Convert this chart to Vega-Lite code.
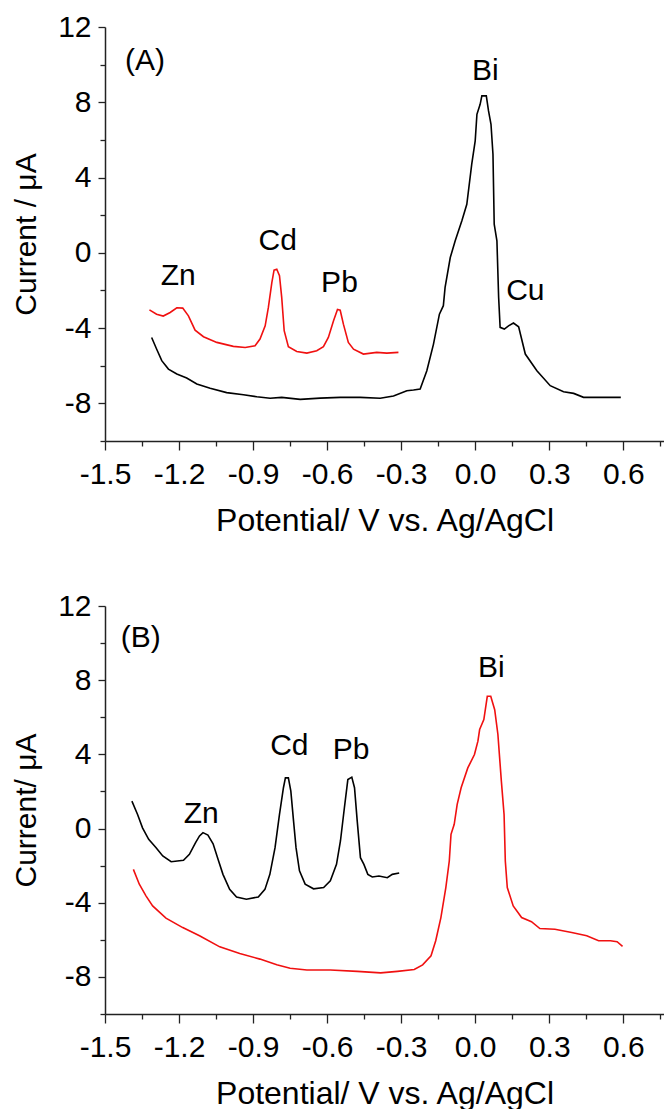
{
  "$schema": "https://vega.github.io/schema/vega-lite/v6.json",
  "background": "white",
  "padding": {"left": 11, "top": 12, "right": 0, "bottom": 0},
  "bounds": "flush",
  "spacing": 165,
  "config": {
    "font": "Liberation Sans",
    "view": {"stroke": null},
    "axis": {
      "grid": false,
      "domainColor": "#222222",
      "domainWidth": 1.5,
      "tickColor": "#222222",
      "tickWidth": 1.3,
      "labelFont": "Liberation Sans",
      "labelFontSize": 30,
      "labelColor": "#000000",
      "titleFont": "Liberation Sans",
      "titleFontWeight": "normal",
      "titleColor": "#000000"
    },
    "text": {"font": "Liberation Sans", "fontSize": 30, "color": "#000000"}
  },
  "datasets": {
    "A_BiCu": [
      {"potential": -1.311, "current": -4.5}, {"potential": -1.291, "current": -5.11}, {"potential": -1.27, "current": -5.73},
      {"potential": -1.243, "current": -6.18}, {"potential": -1.209, "current": -6.44}, {"potential": -1.169, "current": -6.65},
      {"potential": -1.128, "current": -6.97}, {"potential": -1.074, "current": -7.2}, {"potential": -1.007, "current": -7.43},
      {"potential": -0.939, "current": -7.54}, {"potential": -0.885, "current": -7.65}, {"potential": -0.831, "current": -7.73},
      {"potential": -0.784, "current": -7.68}, {"potential": -0.709, "current": -7.79}, {"potential": -0.628, "current": -7.72},
      {"potential": -0.547, "current": -7.68}, {"potential": -0.466, "current": -7.68}, {"potential": -0.385, "current": -7.73},
      {"potential": -0.331, "current": -7.61}, {"potential": -0.277, "current": -7.33}, {"potential": -0.25, "current": -7.29},
      {"potential": -0.223, "current": -7.24}, {"potential": -0.196, "current": -6.27}, {"potential": -0.169, "current": -4.85},
      {"potential": -0.145, "current": -3.26}, {"potential": -0.129, "current": -2.81}, {"potential": -0.122, "current": -1.84},
      {"potential": -0.101, "current": -0.25}, {"potential": -0.081, "current": 0.64}, {"potential": -0.054, "current": 1.7},
      {"potential": -0.034, "current": 2.58}, {"potential": -0.014, "current": 4.71}, {"potential": 0.0, "current": 5.95},
      {"potential": 0.007, "current": 7.36}, {"potential": 0.02, "current": 7.89}, {"potential": 0.027, "current": 8.34},
      {"potential": 0.045, "current": 8.34}, {"potential": 0.054, "current": 7.54}, {"potential": 0.064, "current": 6.83},
      {"potential": 0.072, "current": 5.24}, {"potential": 0.077, "current": 1.52}, {"potential": 0.088, "current": 0.64},
      {"potential": 0.095, "current": -2.37}, {"potential": 0.101, "current": -3.96}, {"potential": 0.118, "current": -4.05},
      {"potential": 0.135, "current": -3.88}, {"potential": 0.155, "current": -3.73}, {"potential": 0.176, "current": -3.93},
      {"potential": 0.203, "current": -5.38}, {"potential": 0.25, "current": -6.27}, {"potential": 0.304, "current": -7.06},
      {"potential": 0.358, "current": -7.38}, {"potential": 0.399, "current": -7.47}, {"potential": 0.439, "current": -7.68},
      {"potential": 0.507, "current": -7.68}, {"potential": 0.59, "current": -7.68}
    ],
    "A_ZnCdPb": [
      {"potential": -1.32, "current": -3.03}, {"potential": -1.291, "current": -3.26}, {"potential": -1.264, "current": -3.36},
      {"potential": -1.236, "current": -3.17}, {"potential": -1.209, "current": -2.92}, {"potential": -1.185, "current": -2.94},
      {"potential": -1.162, "current": -3.35}, {"potential": -1.135, "current": -4.11}, {"potential": -1.101, "current": -4.46},
      {"potential": -1.047, "current": -4.76}, {"potential": -0.98, "current": -4.97}, {"potential": -0.932, "current": -5.03},
      {"potential": -0.892, "current": -4.94}, {"potential": -0.872, "current": -4.58}, {"potential": -0.851, "current": -3.88},
      {"potential": -0.838, "current": -2.9}, {"potential": -0.824, "current": -1.58}, {"potential": -0.815, "current": -0.92},
      {"potential": -0.804, "current": -0.87}, {"potential": -0.793, "current": -1.22}, {"potential": -0.784, "current": -2.37},
      {"potential": -0.774, "current": -4.14}, {"potential": -0.757, "current": -4.99}, {"potential": -0.723, "current": -5.24},
      {"potential": -0.682, "current": -5.33}, {"potential": -0.642, "current": -5.2}, {"potential": -0.615, "current": -4.99},
      {"potential": -0.595, "current": -4.5}, {"potential": -0.574, "current": -3.61}, {"potential": -0.558, "current": -3.01},
      {"potential": -0.547, "current": -3.05}, {"potential": -0.534, "current": -3.79}, {"potential": -0.514, "current": -4.76},
      {"potential": -0.493, "current": -5.12}, {"potential": -0.453, "current": -5.38}, {"potential": -0.399, "current": -5.29},
      {"potential": -0.358, "current": -5.33}, {"potential": -0.311, "current": -5.29}
    ],
    "A_labels": [
      {"label": "(A)", "potential": -1.338, "current": 10.2},
      {"label": "Zn", "potential": -1.203, "current": -1.22},
      {"label": "Cd", "potential": -0.8, "current": 0.64},
      {"label": "Pb", "potential": -0.55, "current": -1.58},
      {"label": "Bi", "potential": 0.041, "current": 9.66},
      {"label": "Cu", "potential": 0.203, "current": -2.02}
    ],
    "B_ZnCdPb": [
      {"potential": -1.391, "current": 1.48}, {"potential": -1.368, "current": 0.76}, {"potential": -1.348, "current": 0.04},
      {"potential": -1.323, "current": -0.58}, {"potential": -1.293, "current": -1.03}, {"potential": -1.266, "current": -1.48},
      {"potential": -1.232, "current": -1.79}, {"potential": -1.182, "current": -1.71}, {"potential": -1.158, "current": -1.39},
      {"potential": -1.133, "current": -0.76}, {"potential": -1.117, "current": -0.4}, {"potential": -1.103, "current": -0.22},
      {"potential": -1.083, "current": -0.35}, {"potential": -1.062, "current": -0.82}, {"potential": -1.042, "current": -1.66},
      {"potential": -1.022, "current": -2.47}, {"potential": -0.995, "current": -3.28}, {"potential": -0.967, "current": -3.69},
      {"potential": -0.927, "current": -3.81}, {"potential": -0.879, "current": -3.69}, {"potential": -0.852, "current": -3.28},
      {"potential": -0.832, "current": -2.47}, {"potential": -0.811, "current": -1.03}, {"potential": -0.793, "current": 0.76},
      {"potential": -0.777, "current": 2.2}, {"potential": -0.769, "current": 2.73}, {"potential": -0.757, "current": 2.73},
      {"potential": -0.747, "current": 2.02}, {"potential": -0.736, "current": 0.4}, {"potential": -0.726, "current": -1.03},
      {"potential": -0.712, "current": -2.28}, {"potential": -0.689, "current": -3.0}, {"potential": -0.655, "current": -3.25},
      {"potential": -0.614, "current": -3.18}, {"potential": -0.587, "current": -2.82}, {"potential": -0.562, "current": -1.93},
      {"potential": -0.546, "current": -0.67}, {"potential": -0.53, "current": 1.12}, {"potential": -0.516, "current": 2.64},
      {"potential": -0.5, "current": 2.77}, {"potential": -0.489, "current": 2.2}, {"potential": -0.478, "current": 0.4},
      {"potential": -0.465, "current": -1.57}, {"potential": -0.451, "current": -1.93}, {"potential": -0.435, "current": -2.47},
      {"potential": -0.417, "current": -2.61}, {"potential": -0.39, "current": -2.56}, {"potential": -0.356, "current": -2.65},
      {"potential": -0.336, "current": -2.47}, {"potential": -0.308, "current": -2.4}
    ],
    "B_Bi": [
      {"potential": -1.385, "current": -2.2}, {"potential": -1.361, "current": -3.0}, {"potential": -1.334, "current": -3.63},
      {"potential": -1.307, "current": -4.17}, {"potential": -1.253, "current": -4.83}, {"potential": -1.185, "current": -5.34},
      {"potential": -1.117, "current": -5.78}, {"potential": -1.035, "current": -6.38}, {"potential": -0.954, "current": -6.74},
      {"potential": -0.872, "current": -7.04}, {"potential": -0.804, "current": -7.35}, {"potential": -0.75, "current": -7.53},
      {"potential": -0.682, "current": -7.63}, {"potential": -0.587, "current": -7.63}, {"potential": -0.478, "current": -7.7},
      {"potential": -0.383, "current": -7.78}, {"potential": -0.315, "current": -7.7}, {"potential": -0.247, "current": -7.6},
      {"potential": -0.213, "current": -7.35}, {"potential": -0.179, "current": -6.86}, {"potential": -0.16, "current": -6.05},
      {"potential": -0.139, "current": -4.8}, {"potential": -0.119, "current": -3.18}, {"potential": -0.105, "current": -1.75},
      {"potential": -0.098, "current": -0.31}, {"potential": -0.085, "current": 0.23}, {"potential": -0.073, "current": 1.3},
      {"potential": -0.057, "current": 2.2}, {"potential": -0.03, "current": 3.27}, {"potential": -0.003, "current": 3.99},
      {"potential": 0.011, "current": 4.71}, {"potential": 0.018, "current": 5.34}, {"potential": 0.035, "current": 5.88},
      {"potential": 0.049, "current": 7.13}, {"potential": 0.063, "current": 7.13}, {"potential": 0.079, "current": 6.41},
      {"potential": 0.092, "current": 5.07}, {"potential": 0.106, "current": 2.56}, {"potential": 0.117, "current": 0.76},
      {"potential": 0.122, "current": -1.75}, {"potential": 0.13, "current": -3.18}, {"potential": 0.154, "current": -4.17},
      {"potential": 0.188, "current": -4.8}, {"potential": 0.228, "current": -5.02}, {"potential": 0.262, "current": -5.39},
      {"potential": 0.323, "current": -5.43}, {"potential": 0.391, "current": -5.61}, {"potential": 0.452, "current": -5.78},
      {"potential": 0.5, "current": -6.05}, {"potential": 0.548, "current": -6.05}, {"potential": 0.575, "current": -6.1},
      {"potential": 0.597, "current": -6.35}
    ],
    "B_labels": [
      {"label": "(B)", "potential": -1.355, "current": 10.27},
      {"label": "Zn", "potential": -1.11, "current": 0.76},
      {"label": "Cd", "potential": -0.753, "current": 4.44},
      {"label": "Pb", "potential": -0.503, "current": 4.26},
      {"label": "Bi", "potential": 0.065, "current": 8.65}
    ]
  },
  "vconcat": [
    {
      "width": 559,
      "height": 414,
      "encoding": {
        "x": {
          "field": "potential", "type": "quantitative",
          "scale": {"domain": [-1.5, 0.765], "nice": false, "zero": false},
          "axis": {
            "values": [-1.5, -1.35, -1.2, -1.05, -0.9, -0.75, -0.6, -0.45, -0.3, -0.15, 0, 0.15, 0.3, 0.45, 0.6, 0.75],
            "format": ".1f",
            "labelExpr": "abs(datum.value*10/3 - round(datum.value*10/3)) < 0.01 ? replace(datum.label, '\u2212', '-') : ''",
            "tickSize": {"condition": {"test": "abs(datum.value*10/3 - round(datum.value*10/3)) < 0.01", "value": 9}, "value": 5},
            "labelPadding": 9,
            "labelFlush": false,
            "labelOverlap": false,
            "title": "Potential/ V vs. Ag/AgCl",
            "titleFontSize": 32,
            "titlePadding": 16
          }
        },
        "y": {
          "field": "current", "type": "quantitative",
          "scale": {"domain": [-10, 12], "nice": false, "zero": false},
          "axis": {
            "values": [-10, -8, -6, -4, -2, 0, 2, 4, 6, 8, 10, 12],
            "labelExpr": "datum.value % 4 == 0 ? replace(datum.label, '\u2212', '-') : ''",
            "tickSize": {"condition": {"test": "datum.value % 4 == 0", "value": 7}, "value": 5},
            "labelPadding": 7,
            "labelFlush": false,
            "labelOverlap": false,
            "title": "Current / \u03bcA",
            "titleFontSize": 30,
            "titlePadding": 16
          }
        }
      },
      "layer": [
        {"mark": {"type": "rule", "color": "#555555", "strokeWidth": 2}, "encoding": {"x": null, "y": {"datum": 12}}},
        {"data": {"name": "A_BiCu"}, "mark": {"type": "line", "color": "#000000", "strokeWidth": 1.6}},
        {"data": {"name": "A_ZnCdPb"}, "mark": {"type": "line", "color": "#f01010", "strokeWidth": 1.6}},
        {"data": {"name": "A_labels"}, "mark": {"type": "text", "align": "center", "baseline": "middle"}, "encoding": {"text": {"field": "label"}}}
      ]
    },
    {
      "width": 559,
      "height": 408,
      "encoding": {
        "x": {
          "field": "potential", "type": "quantitative",
          "scale": {"domain": [-1.5, 0.765], "nice": false, "zero": false},
          "axis": {
            "values": [-1.5, -1.35, -1.2, -1.05, -0.9, -0.75, -0.6, -0.45, -0.3, -0.15, 0, 0.15, 0.3, 0.45, 0.6, 0.75],
            "format": ".1f",
            "labelExpr": "abs(datum.value*10/3 - round(datum.value*10/3)) < 0.01 ? replace(datum.label, '\u2212', '-') : ''",
            "tickSize": {"condition": {"test": "abs(datum.value*10/3 - round(datum.value*10/3)) < 0.01", "value": 9}, "value": 5},
            "labelPadding": 9,
            "labelFlush": false,
            "labelOverlap": false,
            "title": "Potential/ V vs. Ag/AgCl",
            "titleFontSize": 32,
            "titlePadding": 16
          }
        },
        "y": {
          "field": "current", "type": "quantitative",
          "scale": {"domain": [-10, 12], "nice": false, "zero": false},
          "axis": {
            "values": [-10, -8, -6, -4, -2, 0, 2, 4, 6, 8, 10, 12],
            "labelExpr": "datum.value % 4 == 0 ? replace(datum.label, '\u2212', '-') : ''",
            "tickSize": {"condition": {"test": "datum.value % 4 == 0", "value": 7}, "value": 5},
            "labelPadding": 7,
            "labelFlush": false,
            "labelOverlap": false,
            "title": "Current/ \u03bcA",
            "titleFontSize": 30,
            "titlePadding": 16
          }
        }
      },
      "layer": [
        {"mark": {"type": "rule", "color": "#555555", "strokeWidth": 2}, "encoding": {"x": null, "y": {"datum": 12}}},
        {"data": {"name": "B_ZnCdPb"}, "mark": {"type": "line", "color": "#000000", "strokeWidth": 1.6}},
        {"data": {"name": "B_Bi"}, "mark": {"type": "line", "color": "#f01010", "strokeWidth": 1.6}},
        {"data": {"name": "B_labels"}, "mark": {"type": "text", "align": "center", "baseline": "middle"}, "encoding": {"text": {"field": "label"}}}
      ]
    }
  ]
}
